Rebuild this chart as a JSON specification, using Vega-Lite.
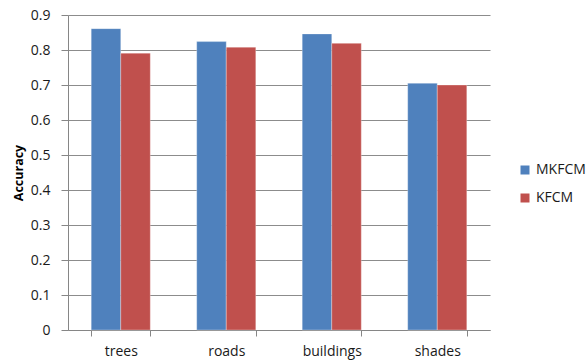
{
  "$schema": "https://vega.github.io/schema/vega-lite/v6.json",
  "width": 422,
  "height": 315,
  "autosize": {"type": "none"},
  "padding": {"left": 68, "top": 15, "right": 98, "bottom": 30},
  "background": "white",
  "config": {
    "font": "Open Sans",
    "view": {"stroke": null}
  },
  "data": {
    "values": [
      {"class": "trees", "method": "MKFCM", "accuracy": 0.861},
      {"class": "trees", "method": "KFCM", "accuracy": 0.791},
      {"class": "roads", "method": "MKFCM", "accuracy": 0.824},
      {"class": "roads", "method": "KFCM", "accuracy": 0.808},
      {"class": "buildings", "method": "MKFCM", "accuracy": 0.846},
      {"class": "buildings", "method": "KFCM", "accuracy": 0.819},
      {"class": "shades", "method": "MKFCM", "accuracy": 0.705},
      {"class": "shades", "method": "KFCM", "accuracy": 0.700}
    ]
  },
  "mark": {"type": "bar", "stroke": "white", "strokeWidth": 0.5, "strokeOpacity": 0.6},
  "encoding": {
    "x": {
      "field": "class",
      "type": "nominal",
      "sort": ["trees", "roads", "buildings", "shades"],
      "scale": {"paddingInner": 0.44, "paddingOuter": 0.22},
      "axis": {
        "title": null,
        "labelAngle": 0,
        "labelFontSize": 14,
        "labelColor": "#1a1a1a",
        "labelPadding": 8,
        "domainColor": "#868686",
        "tickColor": "#868686",
        "tickSize": 6,
        "tickBand": "extent",
        "grid": false
      }
    },
    "xOffset": {
      "field": "method",
      "type": "nominal",
      "sort": ["MKFCM", "KFCM"],
      "scale": {"paddingInner": 0, "paddingOuter": 0}
    },
    "y": {
      "field": "accuracy",
      "type": "quantitative",
      "scale": {"domain": [0, 0.9], "nice": false},
      "axis": {
        "title": "Accuracy",
        "titleFontSize": 12.5,
        "titleFontWeight": "bold",
        "titleColor": "#000000",
        "titlePadding": 5,
        "values": [0, 0.1, 0.2, 0.3, 0.4, 0.5, 0.6, 0.7, 0.8, 0.9],
        "format": ".1~f",
        "labelFontSize": 14,
        "labelColor": "#1a1a1a",
        "labelPadding": 11,
        "tickSize": 7,
        "tickColor": "#868686",
        "domainColor": "#868686",
        "gridColor": "#8c8c8c",
        "gridWidth": 1.2
      }
    },
    "color": {
      "field": "method",
      "type": "nominal",
      "sort": ["MKFCM", "KFCM"],
      "scale": {"domain": ["MKFCM", "KFCM"], "range": ["#4F81BD", "#C0504D"]},
      "legend": {
        "title": null,
        "orient": "none",
        "legendX": 450,
        "legendY": 148,
        "symbolType": "square",
        "symbolSize": 81,
        "symbolStrokeWidth": 0,
        "labelFontSize": 14,
        "labelColor": "#1a1a1a",
        "labelOffset": 4,
        "rowPadding": 14,
        "padding": 0
      }
    }
  }
}
